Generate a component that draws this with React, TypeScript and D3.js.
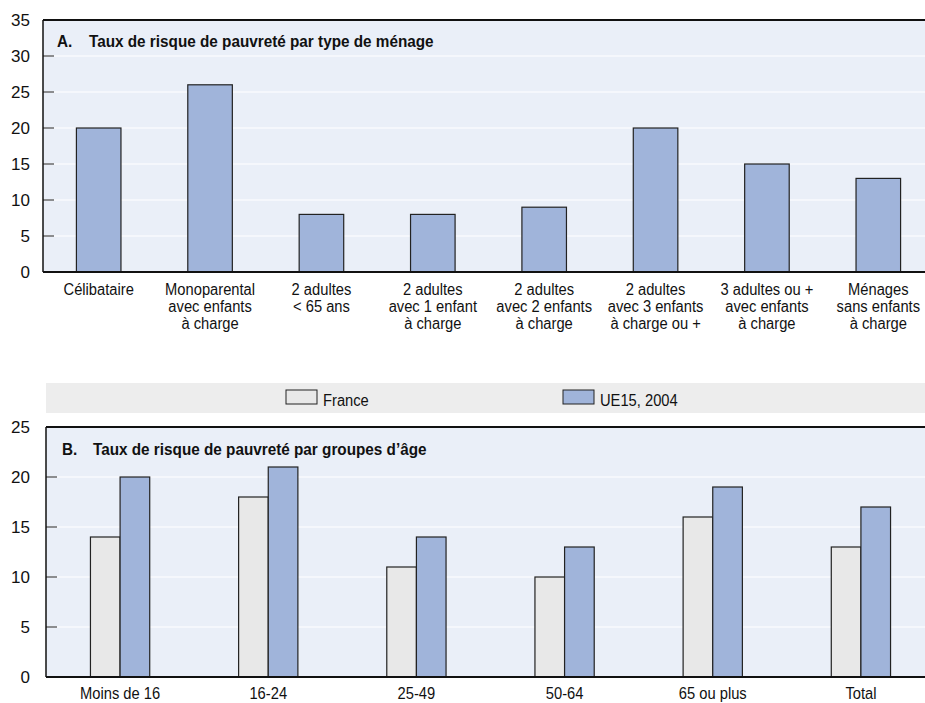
import { useEffect, useRef } from 'react';
import * as d3 from 'd3';

const householdTypes = [
  "Célibataire",
  "Monoparental\navec enfants\nà charge",
  "2 adultes\n< 65 ans",
  "2 adultes\navec 1 enfant\nà charge",
  "2 adultes\navec 2 enfants\nà charge",
  "2 adultes\navec 3 enfants\nà charge ou +",
  "3 adultes ou +\navec enfants\nà charge",
  "Ménages\nsans enfants\nà charge"
];
const householdEU = [20, 26, 8, 8, 9, 20, 15, 13];

const ageGroups = ["Moins de 16", "16-24", "25-49", "50-64", "65 ou plus", "Total"];
const ageFrance = [14, 18, 11, 10, 16, 13];
const ageEU = [20, 21, 14, 13, 19, 17];

const seriesNames = ["France", "UE15, 2004"];
const ticksA = [0, 5, 10, 15, 20, 25, 30, 35];
const ticksB = [0, 5, 10, 15, 20, 25];

const FONT = "'Liberation Sans', Arial, sans-serif";
const BG = "#eaeff8";
const BLUE = "#a0b4da";
const GREY = "#e8e8e8";
const INK = "#111";

// condensed-looking text: Liberation Sans squeezed horizontally
function ntext(g: any, x: number, y: number, str: string, opts: any = {}) {
  const size = opts.size ?? 16;
  const sx = opts.sx ?? 0.92;
  const t = g.append("text")
    .attr("transform", `translate(${x},${y}) scale(${sx},1)`)
    .attr("text-anchor", opts.anchor ?? "start")
    .attr("font-size", size)
    .attr("font-family", FONT)
    .attr("font-weight", opts.weight ?? "normal")
    .attr("fill", INK);
  const lines = str.split("\n");
  if (lines.length === 1) {
    t.attr("x", 0).attr("y", 0).attr("dy", opts.dy ?? null).text(str);
  } else {
    lines.forEach((line, k) => {
      t.append("tspan").attr("x", 0).attr("y", k * (opts.lh ?? 17)).text(line);
    });
  }
  return t;
}

export default function App() {
  const svgRef = useRef<SVGSVGElement>(null);

  useEffect(() => {
    if (!svgRef.current) return;
    const svg = d3.select(svgRef.current);
    svg.selectAll("*").remove();
    const W = 925;

    // ---------- Panel A ----------
    const leftA = 43;
    const yA = d3.scaleLinear().domain([0, 35]).range([272, 20]);
    const xA = d3.scaleBand<string>().domain(householdTypes).range([leftA, 934]).paddingInner(0.6).paddingOuter(0.3);

    const gA = svg.append("g");
    gA.append("rect").attr("x", leftA).attr("y", yA(35)).attr("width", W - leftA).attr("height", yA(0) - yA(35)).attr("fill", BG);
    gA.selectAll(".grid").data(ticksA.slice(1, -1)).enter().append("line")
      .attr("x1", leftA).attr("x2", W).attr("y1", d => yA(d)).attr("y2", d => yA(d))
      .attr("stroke", "#fff").attr("stroke-width", 1.2);
    gA.selectAll(".tick").data(ticksA.slice(1, -1)).enter().append("line")
      .attr("x1", leftA).attr("x2", leftA + 11).attr("y1", d => yA(d)).attr("y2", d => yA(d))
      .attr("stroke", "#222").attr("stroke-width", 1);
    ticksA.forEach(d => ntext(gA, 30, yA(d), String(d), { anchor: "end", size: 17, sx: 1, dy: "0.36em" }));
    gA.selectAll(".bar").data(householdEU).enter().append("rect")
      .attr("x", (d, i) => xA(householdTypes[i])!)
      .attr("y", d => yA(d))
      .attr("width", xA.bandwidth())
      .attr("height", d => yA(0) - yA(d))
      .attr("fill", BLUE).attr("stroke", "#222").attr("stroke-width", 1.2);
    gA.append("line").attr("x1", leftA).attr("x2", leftA).attr("y1", yA(35)).attr("y2", yA(0)).attr("stroke", INK).attr("stroke-width", 1.5);
    gA.append("line").attr("x1", leftA).attr("x2", W).attr("y1", yA(35)).attr("y2", yA(35)).attr("stroke", INK).attr("stroke-width", 2);
    gA.append("line").attr("x1", leftA).attr("x2", W).attr("y1", yA(0)).attr("y2", yA(0)).attr("stroke", INK).attr("stroke-width", 2);
    householdTypes.forEach(d => ntext(gA, xA(d)! + xA.bandwidth() / 2, 295, d, { anchor: "middle", lh: 17 }));
    ntext(gA, 57, 47, "A.", { weight: "bold", size: 17, sx: 0.9 });
    ntext(gA, 89, 47, "Taux de risque de pauvreté par type de ménage", { weight: "bold", size: 17, sx: 0.9 });

    // ---------- Legend ----------
    const gL = svg.append("g");
    gL.append("rect").attr("x", 46).attr("y", 383).attr("width", W - 46).attr("height", 30).attr("fill", "#ededed");
    const legX = [286, 563];
    seriesNames.forEach((name, i) => {
      gL.append("rect").attr("x", legX[i]).attr("y", 390).attr("width", 31).attr("height", 14)
        .attr("fill", i === 0 ? GREY : BLUE).attr("stroke", "#222").attr("stroke-width", 1);
      ntext(gL, legX[i] + 37, 406, name, {});
    });

    // ---------- Panel B ----------
    const leftB = 46;
    const yB = d3.scaleLinear().domain([0, 25]).range([677, 427]);
    const xB = d3.scaleBand<string>().domain(ageGroups).range([leftB, 935]).paddingInner(0.6).paddingOuter(0.3);
    const xSub = d3.scaleBand<string>().domain(seriesNames).range([0, xB.bandwidth()]);

    const gB = svg.append("g");
    gB.append("rect").attr("x", leftB).attr("y", yB(25)).attr("width", W - leftB).attr("height", yB(0) - yB(25)).attr("fill", BG);
    gB.selectAll(".grid").data(ticksB.slice(1, -1)).enter().append("line")
      .attr("x1", leftB).attr("x2", W).attr("y1", d => yB(d)).attr("y2", d => yB(d))
      .attr("stroke", "#fff").attr("stroke-width", 1.2);
    gB.selectAll(".tick").data(ticksB.slice(1, -1)).enter().append("line")
      .attr("x1", leftB).attr("x2", leftB + 11).attr("y1", d => yB(d)).attr("y2", d => yB(d))
      .attr("stroke", "#222").attr("stroke-width", 1);
    ticksB.forEach(d => ntext(gB, 30, yB(d), String(d), { anchor: "end", size: 17, sx: 1, dy: "0.36em" }));
    const groups = gB.selectAll(".grp").data(ageGroups).enter().append("g")
      .attr("transform", d => `translate(${xB(d)},0)`);
    groups.each(function (d, i) {
      const g = d3.select(this);
      [ageFrance[i], ageEU[i]].forEach((v, s) => {
        g.append("rect")
          .attr("x", xSub(seriesNames[s])!)
          .attr("y", yB(v))
          .attr("width", xSub.bandwidth())
          .attr("height", yB(0) - yB(v))
          .attr("fill", s === 0 ? GREY : BLUE).attr("stroke", "#222").attr("stroke-width", 1.2);
      });
    });
    gB.append("line").attr("x1", leftB).attr("x2", leftB).attr("y1", yB(25)).attr("y2", yB(0)).attr("stroke", INK).attr("stroke-width", 1.5);
    gB.append("line").attr("x1", leftB).attr("x2", W).attr("y1", yB(25)).attr("y2", yB(25)).attr("stroke", INK).attr("stroke-width", 2);
    gB.append("line").attr("x1", leftB).attr("x2", W).attr("y1", yB(0)).attr("y2", yB(0)).attr("stroke", INK).attr("stroke-width", 2);
    ageGroups.forEach(d => ntext(gB, xB(d)! + xB.bandwidth() / 2, 699, d, { anchor: "middle" }));
    ntext(gB, 62, 455, "B.", { weight: "bold", size: 17, sx: 0.9 });
    ntext(gB, 93, 455, "Taux de risque de pauvreté par groupes d’âge", { weight: "bold", size: 17, sx: 0.9 });
  }, []);

  return (
    <svg ref={svgRef} width={925} height={703} viewBox="0 0 925 703"
      style={{ position: 'absolute', left: 0, top: 0, background: '#fff' }} />
  );
}
